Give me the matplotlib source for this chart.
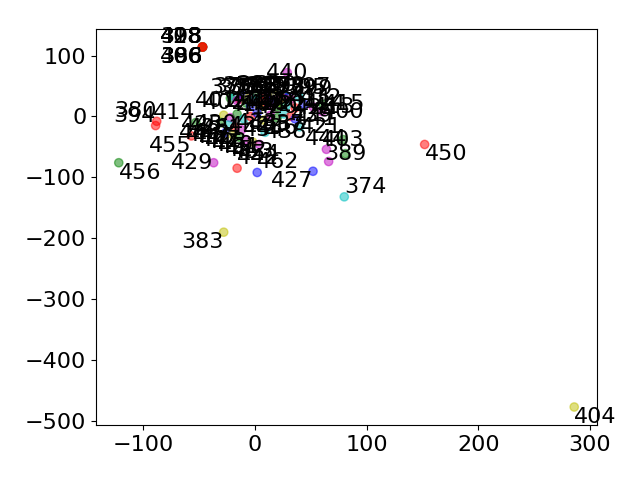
import matplotlib
matplotlib.use('Agg')
import matplotlib.pyplot as plt

plt.rcParams['font.size'] = 16

# outliers and edge of the cloud
ids = [404, 383, 450, 374, 456, 380, 394, 414, 455, 427, 403, 389, 444, 429, 462, 442, 421, 400, 438,
       # stack at the top
       398, 408, 418, 428, 386, 396, 406, 388,
       # the blob in the middle
       375, 376, 377, 378, 379, 381, 382, 384, 385, 387, 390, 391, 392, 393, 395, 397, 399,
       401, 402, 405, 407, 409, 410, 411, 412, 413, 415, 416, 417, 419, 420, 422, 423, 424,
       425, 426, 430, 431, 432, 433, 434, 435, 436, 437, 439, 440, 441, 443, 445, 446, 447,
       448, 449, 451, 452, 453, 454]
x = [286, -28, 152, 80, -122, -88, -89, -53, -57, 52, 79, 81, 64, -37, 2, -16, 40, 60, 9,
     -47, -47, -47, -47, -47, -47, -47, -47,
     -22, -18, -14, -10, -6, -2, 2, 6, 10, 14, 18, 22, 26, 26, 26, 30, 32,
     -16, -8, 0, 8, 16, 24, 32, 40, 52, 61, -4, 4, 12, 20, 28, 36, 44,
     -28, -22, -16, -10, -4, 2, 8, 14, 20, 26, 32, 29, 36, -30, -24, -18, -12,
     -26, -20, -14, -8, -2, 4, 66]
y = [-477, -190, -46, -132, -76, -8, -15, -10, -32, -90, -38, -61, -54, -76, -92, -85, -17, 8, -26,
     114, 114, 114, 114, 114, 114, 114, 114,
     30, 32, 28, 34, 30, 32, 36, 30, 34, 32, 36, 30, 34, 32, 30, 32, 28,
     26, 22, 28, 24, 26, 22, 28, 31, 16, 20, 18, 14, 20, 16, 18, 14, 20,
     2, -2, 4, -4, 0, 6, -6, 2, -2, 4, 0, 72, -4, -10, -14, -18, -22,
     -26, -30, -34, -38, -42, -46, -74]
colors = ['y', 'y', 'r', 'c', 'g', 'r', 'r', 'g', 'r', 'b', 'g', 'g', 'm', 'm', 'b', 'r', 'c', 'm', 'c',
          'c', 'b', 'm', 'y', 'g', 'y', 'r', 'r',
          'g', 'c', 'r', 'b', 'y', 'm', 'g', 'c', 'r', 'b', 'y', 'm', 'g', 'c', 'r', 'b', 'y',
          'm', 'g', 'c', 'r', 'b', 'y', 'm', 'c', 'm', 'g', 'b', 'y', 'm', 'g', 'c', 'r', 'b',
          'y', 'm', 'g', 'c', 'r', 'b', 'y', 'm', 'g', 'c', 'r', 'm', 'b', 'g', 'c', 'r', 'm',
          'b', 'y', 'g', 'm', 'y', 'm', 'm']
ha = ['left', 'right', 'left', 'left', 'left', 'right', 'right', 'right', 'right', 'right', 'center', 'center', 'center', 'right', 'left', 'left', 'left', 'left', 'left',
      'right', 'right', 'right', 'right', 'right', 'right', 'right', 'right',
      'center', 'center', 'center', 'center', 'center', 'center', 'center', 'center', 'center', 'center', 'center', 'center', 'center', 'center', 'left', 'left', 'left',
      'right', 'right', 'center', 'center', 'center', 'center', 'left', 'left', 'left', 'left', 'center', 'center', 'center', 'center', 'center', 'left', 'left',
      'right', 'right', 'right', 'right', 'center', 'center', 'center', 'center', 'center', 'center', 'left', 'center', 'left', 'right', 'right', 'right', 'right',
      'center', 'center', 'center', 'center', 'center', 'center', 'right']
va = ['top', 'top', 'top', 'bottom', 'top', 'bottom', 'bottom', 'bottom', 'top', 'top', 'center', 'center', 'bottom', 'center', 'bottom', 'bottom', 'center', 'center', 'center',
      'bottom', 'bottom', 'bottom', 'bottom', 'top', 'top', 'top', 'top',
      'bottom', 'bottom', 'bottom', 'bottom', 'bottom', 'bottom', 'bottom', 'bottom', 'bottom', 'bottom', 'bottom', 'bottom', 'bottom', 'bottom', 'bottom', 'bottom', 'bottom',
      'center', 'center', 'center', 'center', 'center', 'center', 'center', 'center', 'center', 'center', 'center', 'center', 'center', 'center', 'center', 'center', 'center',
      'top', 'top', 'top', 'top', 'top', 'top', 'top', 'top', 'top', 'top', 'center', 'center', 'center', 'top', 'top', 'top', 'top',
      'top', 'top', 'top', 'top', 'top', 'top', 'bottom']

fig, ax = plt.subplots()
ax.scatter(x, y, c=colors, alpha=0.5)
for i in range(len(ids)):
    ax.text(x[i], y[i], str(ids[i]), ha=ha[i], va=va[i])
fig.subplots_adjust(left=96/640, right=597/640, top=1-29/480, bottom=1-425/480)
fig.savefig('out.png')
